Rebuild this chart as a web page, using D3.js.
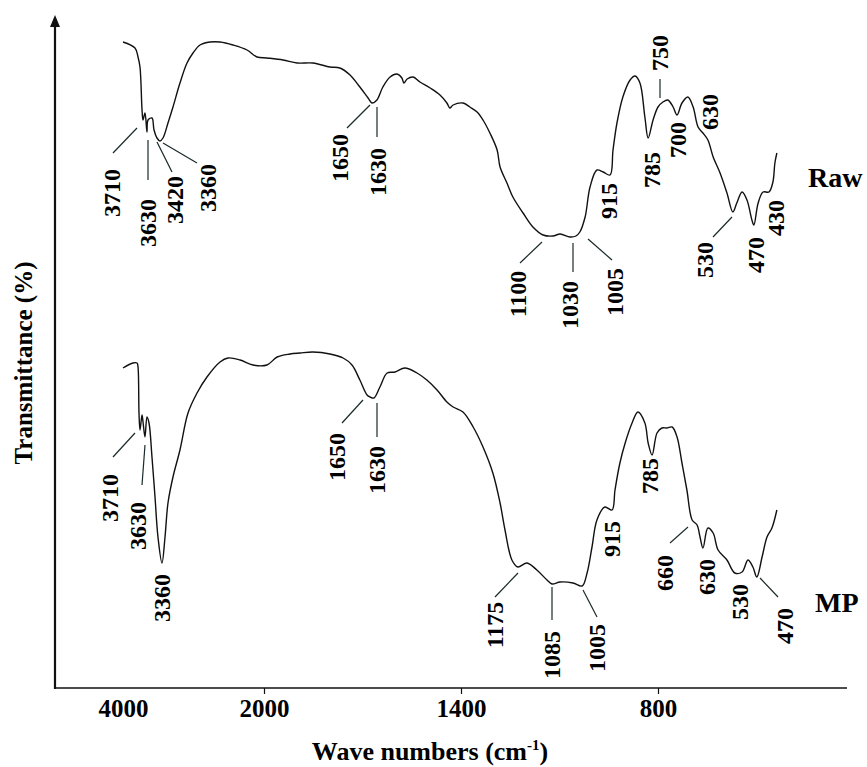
<!DOCTYPE html>
<html>
<head>
<meta charset="utf-8">
<script src="https://cdn.jsdelivr.net/npm/d3@7"></script>
<style>
  body { margin: 0; background: #fff; }
  text { font-family: "Liberation Serif", "Times New Roman", serif; font-weight: bold; fill: #000; }
</style>
</head>
<body>
<svg id="fig_ftir" width="867" height="767"></svg>
<script>

// wave numbers (cm-1) and transmittance, raw sample
var rawWave = [4000,3830,3787,3759,3730,3716,3688,3660,3645,3589,3560,3518,3475,3433,3362,3291,3192,3092,3007,2908,
               2766,2624,2440,2241,2099,1991,1942,1899,1851,1799,1769,1738,1708,1683,1671,1656,1638,1616,1595,1580,
               1574,1564,1546,1525,1494,1464,1443,1434,1424,1394,1373,1351,1333,1312,1290,1281,1260,1242,1211,1181,
               1150,1120,1098,1068,1050,1038,1022,1007,986,967,946,937,925,907,885,870,855,840,830,815,
               800,785,770,754,742,727,709,693,678,663,648,632,611,590,572,560,544,529,514,508,
               495,480,462,450,444,438];
var rawT    = [64.6,64.0,63.1,62.1,57.8,56.8,57.5,55.6,56.8,57.0,55.8,55.0,54.7,55.0,56.5,58.1,60.5,62.5,63.5,64.3,
               64.6,64.6,64.3,63.8,63.1,63.0,62.8,62.5,62.5,62.1,62.0,61.3,60.1,59.0,58.5,58.8,60.1,61.1,61.4,61.0,
               60.5,60.9,61.1,60.6,60.0,59.3,58.5,58.0,58.3,58.5,58.1,57.6,56.8,55.5,53.8,52.1,50.5,49.1,47.5,46.1,
               45.3,45.2,45.4,45.1,45.2,45.6,47.1,50.1,51.8,51.6,51.3,53.8,56.5,59.1,60.8,61.2,60.5,57.1,55.0,56.8,
               58.1,58.6,58.8,58.1,57.3,58.5,59.1,58.1,56.1,55.5,54.8,53.1,51.5,49.5,47.6,48.5,49.6,48.8,46.8,46.3,
               48.5,49.6,49.6,50.6,52.5,53.5];

// MP sample
var mpWave = [4000,3858,3801,3787,3773,3759,3730,3716,3688,3660,3631,3589,3546,3504,3447,3404,3362,3291,3192,3078,
              2950,2809,2624,2511,2340,2156,1991,1960,1921,1890,1851,1799,1759,1732,1708,1686,1677,1665,1647,1625,
              1601,1571,1534,1504,1473,1443,1424,1394,1363,1333,1303,1281,1266,1245,1227,1199,1169,1138,1123,1098,
              1059,1031,1016,1001,986,962,940,931,916,900,879,861,840,830,818,803,788,773,757,742,
              727,712,696,681,672,663,648,632,617,590,566,544,526,511,499,483,468,453,438];
var mpT    = [32.0,32.5,32.5,32.1,27.5,25.8,27.3,26.6,25.1,27.1,26.5,23.1,19.1,15.1,12.5,15.1,18.5,21.1,23.8,27.5,
              29.5,31.1,32.6,33.0,32.8,32.3,32.3,33.1,33.4,33.5,33.6,33.4,33.0,32.3,30.8,29.3,29.1,29.0,30.1,31.5,
              31.6,32.0,31.5,30.8,29.8,28.6,28.1,27.6,26.1,24.1,21.5,18.5,15.8,12.8,12.1,12.5,11.8,10.8,10.4,10.6,
              10.5,10.2,11.5,14.1,16.8,18.1,17.8,19.8,22.5,24.5,26.5,27.6,26.5,24.5,23.3,25.5,26.0,26.0,26.1,25.1,
              22.5,19.8,16.8,16.3,15.1,14.0,16.0,15.5,13.8,12.8,11.5,11.6,12.8,12.1,11.1,13.1,15.1,16.0,17.8];

var tickWave = [4000, 2000, 1400, 800];

var rawBands = ['3710','3630','3420','3360','1650','1630','1100','1030','1005','915','785','750','700','630','530','470','430'];
var mpBands  = ['3710','3630','3360','1650','1630','1175','1085','1005','915','785','660','630','530','470'];

// where each band label sits: [cx, cy, leader x1, y1, x2, y2]
var rawLayout = [[112,193,113,153,137,128],[148,223,148,140,148,180],[175,200,157,142,172,172],[208,188,163,143,197,163],
                 [340,158,347,128,370,105],[378,172,377,107,377,137],[518,294,520,263,542,242],[570,305,573,243,573,272],
                 [615,292,588,239,612,260],[609,201],[652,170],[660,53,660,79,660,98],[678,140],[710,112],
                 [705,260,713,237,732,217],[756,255],[776,218]];
var mpLayout  = [[110,498,113,457,135,433],[138,526,142,485,145,445],[162,598],[337,457,342,423,363,400],
                 [377,470,377,403,377,437],[495,625,495,597,518,573],[552,655,552,587,552,620],[597,648,583,590,597,617],
                 [612,539],[650,476],[665,573,670,543,688,527],[707,577],[740,602],[785,626,760,578,778,597]];

function draw_ftir(){

    var svg = d3.select("#fig_ftir");

    // instrument axis: half scale above 2000 cm-1
    var x = d3.scaleLinear().domain([4000, 2000, 800]).range([123, 264, 658]);
    var y = d3.scaleLinear().domain([0, 60]).range([688, 88]);

    var line = d3.line()
        .x(function(d){ return x(d[0]); })
        .y(function(d){ return y(d[1]); })
        .curve(d3.curveCatmullRom.alpha(0.5));

    var series = [d3.zip(rawWave, rawT), d3.zip(mpWave, mpT)];
    svg.selectAll("path.spec").data(series).enter().append("path")
        .attr("class", "spec")
        .attr("d", line)
        .attr("fill", "none")
        .attr("stroke", "#111")
        .attr("stroke-width", 1.4)
        .attr("stroke-linejoin", "round");

    // axes
    svg.append("line").attr("x1", 55).attr("x2", 847).attr("y1", 688).attr("y2", 688)
        .attr("stroke", "#111").attr("stroke-width", 1.6);
    svg.append("line").attr("x1", 55).attr("x2", 55).attr("y1", 689).attr("y2", 24)
        .attr("stroke", "#111").attr("stroke-width", 2.2);
    svg.append("path").attr("d", "M55,15 L50,27 L60,27 Z").attr("fill", "#111");

    var xaxis = svg.append("g").attr("transform", "translate(0,688)")
        .call(d3.axisBottom(x).tickValues(tickWave).tickSize(6).tickPadding(5).tickFormat(d3.format("d")));
    xaxis.select(".domain").remove();
    xaxis.selectAll(".tick line").attr("stroke", "#111").attr("stroke-width", 1.2)
        .filter(function(d){ return d == 4000; }).remove();
    xaxis.selectAll(".tick text")
        .attr("font-family", "Liberation Serif, Times New Roman, serif")
        .attr("font-weight", "bold")
        .attr("font-size", "25px")
        .attr("fill", "#000");

    // band labels
    function add_bands(labels, layout){
        var g = svg.append("g");
        labels.forEach(function(lab, i){
            var p = layout[i];
            if (p.length > 2){
                g.append("line").attr("x1", p[2]).attr("y1", p[3]).attr("x2", p[4]).attr("y2", p[5])
                    .attr("stroke", "#1a2a2a").attr("stroke-width", 1.2);
            }
            g.append("text")
                .attr("transform", "translate(" + p[0] + "," + p[1] + ") rotate(-90)")
                .attr("text-anchor", "middle")
                .attr("dy", ".35em")
                .style("font-size", "24px")
                .text(lab);
        });
    }
    add_bands(rawBands, rawLayout);
    add_bands(mpBands, mpLayout);

    svg.append("text").attr("x", 808).attr("y", 187).style("font-size", "28px").text("Raw");
    svg.append("text").attr("x", 815).attr("y", 612).style("font-size", "28px").text("MP");

    // titles
    var xt = svg.append("text").attr("x", 430).attr("y", 760).attr("text-anchor", "middle").style("font-size", "26px");
    xt.append("tspan").text("Wave numbers (cm");
    xt.append("tspan").attr("dy", -10).style("font-size", "15px").text("-1");
    xt.append("tspan").attr("dy", 10).text(")");

    svg.append("text")
        .attr("transform", "translate(23,363) rotate(-90)")
        .attr("text-anchor", "middle")
        .attr("dy", ".35em")
        .style("font-size", "25px")
        .text("Transmittance (%)");
}

draw_ftir();
</script>
</body>
</html>
